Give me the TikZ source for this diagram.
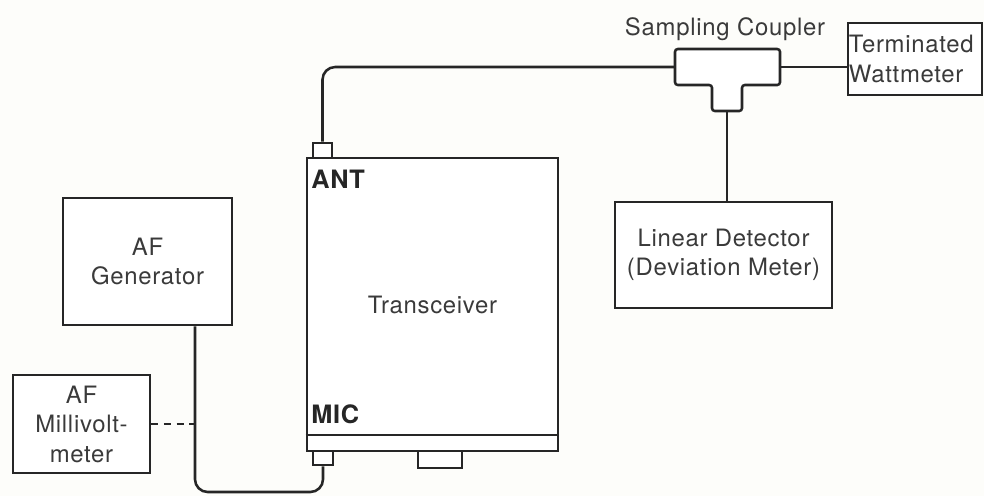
\documentclass[tikz,border=0pt]{standalone}
\usepackage{fontspec}
\setmainfont{TeX Gyre Heros}[LetterSpace=3]
\usetikzlibrary{positioning,calc}
\definecolor{inkDark}{HTML}{262626}
\definecolor{textGray}{HTML}{3A3A3A}
\definecolor{paperWhite}{HTML}{FDFDFA}
\tikzset{
    unit/.style={draw=inkDark,line width=1.8pt,fill=white,align=center,
        text=textGray,font=\fontsize{17}{21}\selectfont,inner sep=2pt},
    plug/.style={draw=inkDark,line width=1.8pt,fill=white,inner sep=0pt},
    cable/.style={draw=inkDark,line width=1.8pt,rounded corners=9pt},
    meterlink/.style={draw=inkDark,line width=1.8pt,dash pattern=on 5pt off 4pt},
    portlabel/.style={text=inkDark,font=\fontsize{18}{20}\selectfont\bfseries,inner sep=0pt},
    caption/.style={text=textGray,font=\fontsize{17}{20}\selectfont,inner sep=0pt}
}

\begin{document}
\begin{tikzpicture}[x=0.025cm,y=-0.025cm]
        \fill[paperWhite] (0,0) rectangle (984,496);
        \useasboundingbox (0,0) rectangle (984,496);

        \node[unit,minimum width=6.275cm,minimum height=7.325cm] (xcvr) at (432.5,304.5)
            {Transceiver};
        \draw[draw=inkDark,line width=1.8pt] (xcvr.west |- 0,435) -- (xcvr.east |- 0,435);
        \node[plug,minimum width=0.475cm,minimum height=0.375cm] (antPlug) at (322.5,150.5) {};
        \node[plug,minimum width=0.5cm,minimum height=0.35cm] (micPlug) at (323,458) {};
        \node[plug,minimum width=1.1cm,minimum height=0.425cm] (foot) at (440,459.5) {};
        \node[portlabel,anchor=base west] (antLabel) at (311,188) {ANT};
        \node[portlabel,anchor=base west] (micLabel) at (311,423) {MIC};

        \node[unit,minimum width=4.225cm,minimum height=3.175cm] (afGen) at (147.5,261.5)
            {AF\\Generator};
        \node[unit,minimum width=3.425cm,minimum height=2.45cm] (mvMeter) at (81.5,424)
            {AF\\Millivolt-\\meter};
        \node[unit,minimum width=5.425cm,minimum height=2.65cm] (detector) at (723.5,255)
            {Linear Detector\\(Deviation Meter)};
        \node[unit,minimum width=3.35cm,minimum height=1.8cm,align=left,
            text width=3.3cm,inner sep=0.5pt] (wattmeter) at (915,59)
            {Terminated\\Wattmeter};

        \draw[draw=inkDark,line width=1.8pt,fill=white,rounded corners=2pt]
            (675,49) -- (780,49) -- (780,85) -- (742,85) -- (742,111)
            -- (712,111) -- (712,85) -- (675,85) -- cycle;
        \coordinate (couplerW) at (675,67);
        \coordinate (couplerE) at (780,67);
        \coordinate (couplerS) at (727,111);
        \node[caption,anchor=base] (couplerLabel) at (725,35) {Sampling Coupler};

        \coordinate (cableBend) at (195,492);
        \draw[cable] (antPlug.north) |- (couplerW);
        \draw[cable] (couplerE) -- (couplerE -| wattmeter.west);
        \draw[cable] (couplerS) -- (couplerS |- detector.north);
        \draw[cable] (micPlug.south) |- (cableBend) -- (cableBend |- afGen.south);
        \draw[meterlink] (mvMeter.east) -- (mvMeter.east -| cableBend);
    \end{tikzpicture}
\end{document}
